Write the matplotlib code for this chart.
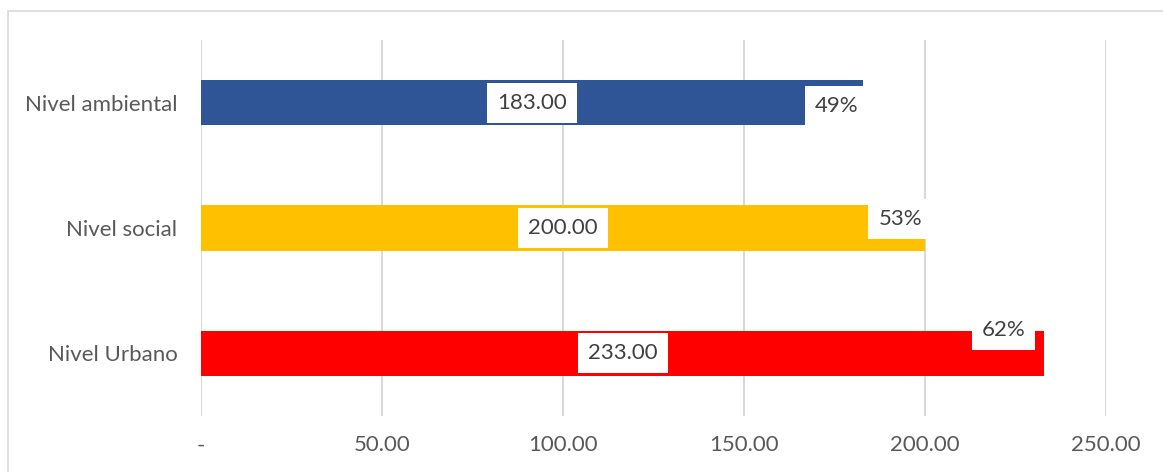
import matplotlib.pyplot as plt
from matplotlib.patches import Rectangle

# Datos
categorias = ["Nivel Urbano", "Nivel social", "Nivel ambiental"]
valores = [233, 200, 183]
porcentajes = ["62%", "53%", "49%"]
colores = ["#FF0000", "#FFC000", "#2F5597"]
ticks = [0, 50, 100, 150, 200, 250]
tick_labels = ["-", "50.00", "100.00", "150.00", "200.00", "250.00"]

plt.rcParams['font.family'] = ['Lato', 'DejaVu Sans']

fig = plt.figure(figsize=(11.63, 4.72), dpi=100)
ax = fig.add_axes([201 / 1163, (472 - 416) / 472, 905 / 1163, 376 / 472])

# borde exterior del gráfico
fig.patches.append(Rectangle((8 / 1163, -0.1), 1.2, (472 - 11) / 472 + 0.1,
                             transform=fig.transFigure, fill=False,
                             edgecolor="#D9D9D9", linewidth=1.2))

y = range(len(categorias))
ax.barh(y, valores, height=0.36, color=colores, zorder=2)

ax.set_xlim(0, 250)
ax.set_ylim(-0.5, 2.5)
ax.set_xticks(ticks)
ax.set_xticklabels(tick_labels)
ax.set_yticks(list(y))
ax.set_yticklabels(categorias)
ax.tick_params(length=0, labelsize=16, labelcolor="#595959")
ax.tick_params(axis="x", pad=14)
ax.tick_params(axis="y", pad=17)
ax.grid(axis="x", color="#D9D9D9", linewidth=1.5, zorder=0)
for s in ax.spines.values():
    s.set_visible(False)

caja = dict(boxstyle="square,pad=0.45", facecolor="white", edgecolor="none")

# etiquetas de valor (centro de la barra)
for i, v in enumerate(valores):
    ax.text(v / 2, i, f"{v:.2f}", ha="center", va="center", fontsize=16,
            color="#404040", bbox=caja, zorder=3)

# etiquetas de porcentaje (cerca del extremo)
desplazamientos = [(-13.7, 16.6), (-2.2, 6.5), (-3.6, -2.2)]
for i, (v, p) in enumerate(zip(valores, porcentajes)):
    dx, dy = desplazamientos[i]
    ax.annotate(p, xy=(v, i), xytext=(dx, dy), textcoords="offset points",
                ha="right", va="center", fontsize=16, color="#404040",
                bbox=caja, zorder=4)

fig.savefig("out.png", dpi=100)
